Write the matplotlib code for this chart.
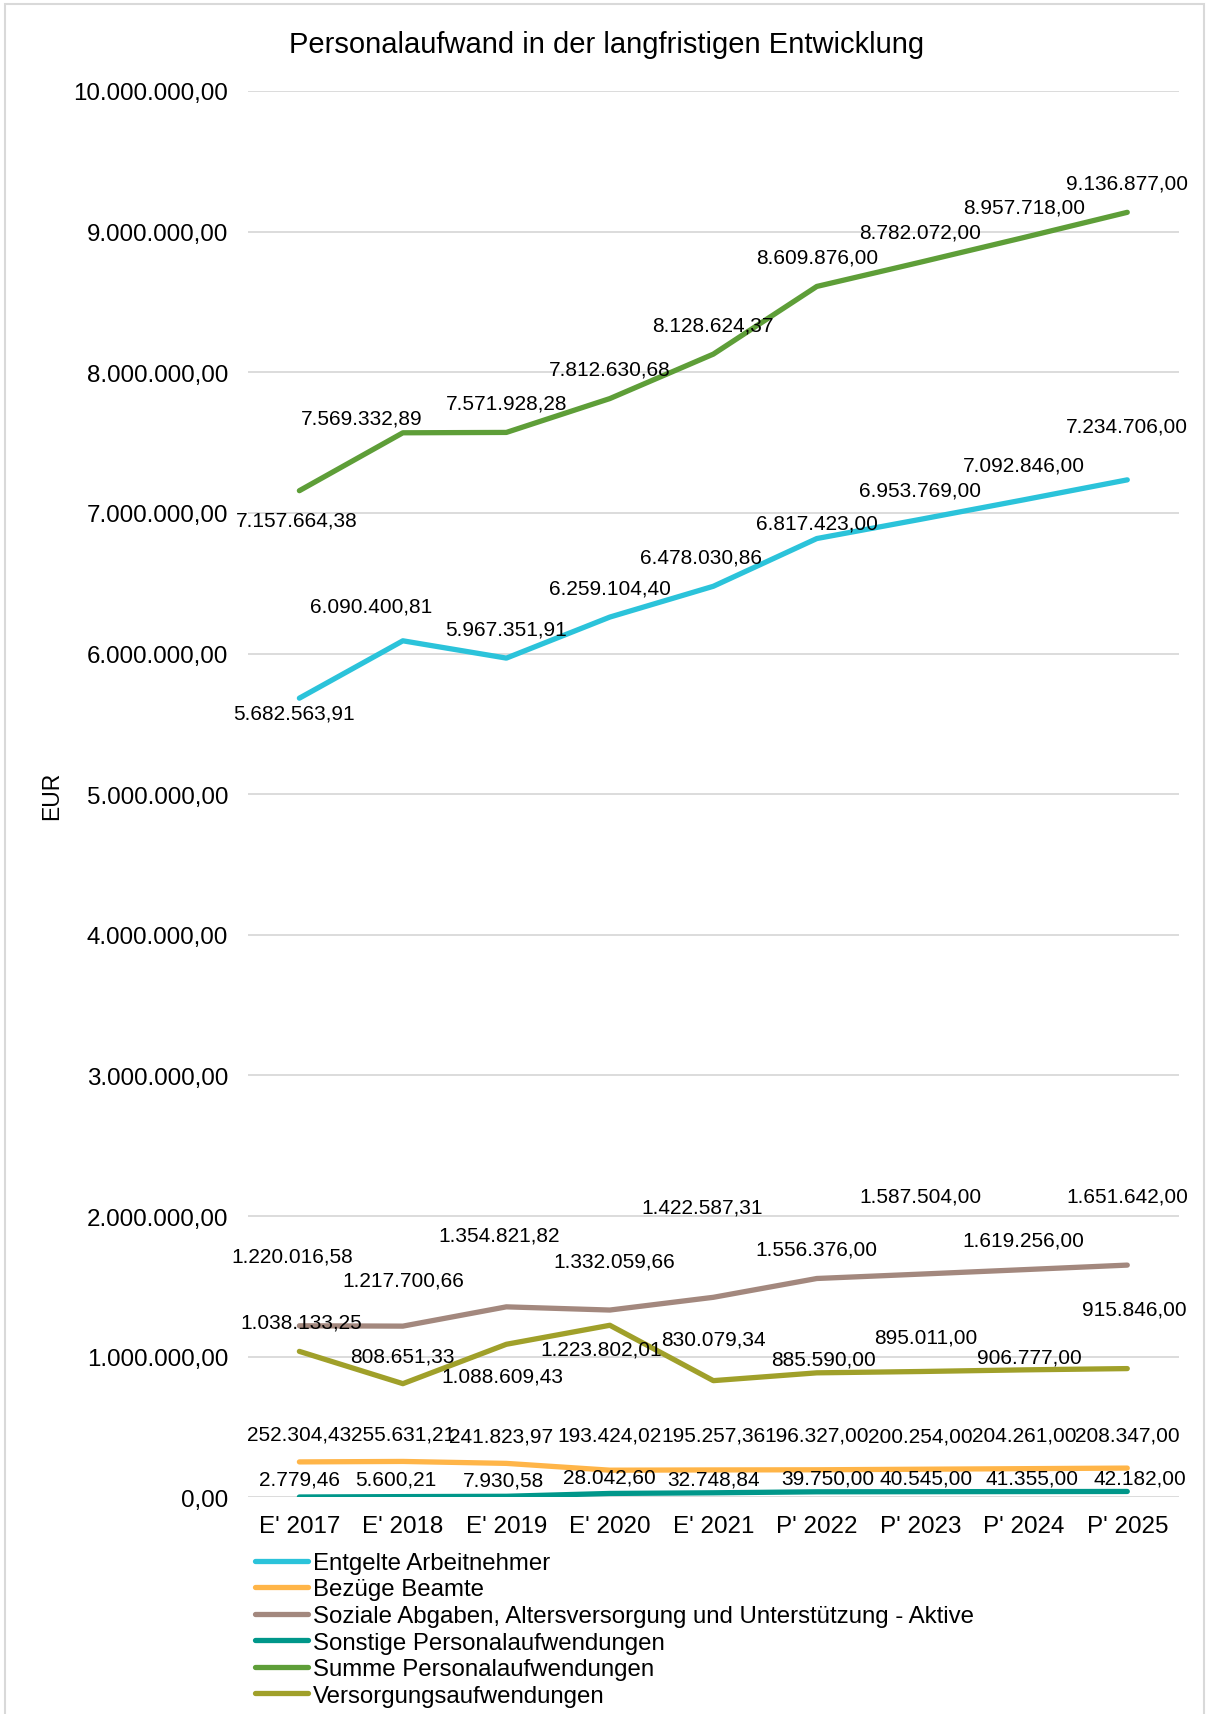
import matplotlib
matplotlib.use("Agg")
import matplotlib.pyplot as plt
from matplotlib.patches import Rectangle
from matplotlib.ticker import FuncFormatter

plt.rcParams['font.family'] = ['Liberation Sans', 'DejaVu Sans']

# Kategorien (E = Ergebnis, P = Plan)
jahre = ["E' 2017", "E' 2018", "E' 2019", "E' 2020", "E' 2021",
         "P' 2022", "P' 2023", "P' 2024", "P' 2025"]

entgelte = [5682563.91, 6090400.81, 5967351.91, 6259104.40, 6478030.86,
            6817423.00, 6953769.00, 7092846.00, 7234706.00]
bezuege = [252304.43, 255631.21, 241823.97, 193424.02, 195257.36,
           196327.00, 200254.00, 204261.00, 208347.00]
soziale = [1220016.58, 1217700.66, 1354821.82, 1332059.66, 1422587.31,
           1556376.00, 1587504.00, 1619256.00, 1651642.00]
sonstige = [2779.46, 5600.21, 7930.58, 28042.60, 32748.84,
            39750.00, 40545.00, 41355.00, 42182.00]
summe = [7157664.38, 7569332.89, 7571928.28, 7812630.68, 8128624.37,
         8609876.00, 8782072.00, 8957718.00, 9136877.00]
versorgung = [1038133.25, 808651.33, 1088609.43, 1223802.01, 830079.34,
              885590.00, 895011.00, 906777.00, 915846.00]

namen = ["Entgelte Arbeitnehmer", "Bezüge Beamte",
         "Soziale Abgaben, Altersversorgung und Unterstützung - Aktive",
         "Sonstige Personalaufwendungen", "Summe Personalaufwendungen",
         "Versorgungsaufwendungen"]
farben = ["#2BC3DA", "#FFB548", "#A3887E", "#00978A", "#5E9E38", "#A0A02A"]

# Verschiebung der Datenbeschriftungen in Punkten (dx, dy)
off_entgelte = [(-4, -11), (-23, 25), (0, 21), (0, 21), (-9, 21), (0, 11), (0, 21), (0, 25), (0, 39)]
off_bezuege = [(0, 20), (0, 20), (-4, 20), (0, 25), (0, 25), (0, 25), (0, 24), (0, 24), (0, 24)]
off_soziale = [(-5, 50), (0, 33), (-5, 52), (3, 35), (-8, 65), (0, 21), (0, 56), (0, 21), (0, 50)]
off_sonstige = [(0, 13), (-5, 13), (-2, 12), (0, 12), (0, 10), (8, 10), (4, 10), (6, 10), (9, 10)]
off_summe = [(-2, -21), (-30, 11), (0, 21), (0, 21), (0, 21), (0, 21), (0, 22), (0, 22), (0, 21)]
off_versorgung = [(1, 21), (0, 20), (-3, -23), (-6, -17), (0, 30), (5, 10), (4, 25), (4, 9), (5, 43)]

serien = [entgelte, bezuege, soziale, sonstige, summe, versorgung]
offsets = [off_entgelte, off_bezuege, off_soziale, off_sonstige, off_summe, off_versorgung]


def de_format(v, nachkomma=2):
    s = f"{v:,.{nachkomma}f}"
    return s.replace(",", "X").replace(".", ",").replace("X", ".")


fig = plt.figure(figsize=(12.08, 17.15), dpi=100)
ax = fig.add_axes([0.205, 0.1263, 0.771, 0.8201])

x = list(range(len(jahre)))
for werte, name, farbe, offs in zip(serien, namen, farben, offsets):
    ax.plot(x, werte, color=farbe, lw=3.8, label=name, solid_capstyle='round',
            solid_joinstyle='round', zorder=3)
    for xi, v, (dx, dy) in zip(x, werte, offs):
        ax.annotate(de_format(v), (xi, v), xytext=(dx, dy), textcoords='offset points',
                    ha='center', va='center', fontsize=15, color='#000000', zorder=4)

ax.set_xlim(-0.5, len(jahre) - 0.5)
ax.set_ylim(0, 10000000)
ax.set_yticks(range(0, 10000001, 1000000))
ax.yaxis.set_major_formatter(FuncFormatter(lambda v, p: de_format(v)))
ax.set_xticks(x)
ax.set_xticklabels(jahre)
ax.tick_params(axis='both', length=0, labelsize=17.4)
ax.tick_params(axis='y', pad=14)
ax.tick_params(axis='x', pad=13)
ax.grid(axis='y', color='#D9D9D9', lw=1.3)
ax.set_axisbelow(True)
for s in ax.spines.values():
    s.set_visible(False)

fig.text(0.043, 0.536, "EUR", rotation=90, ha='center', va='center', fontsize=16.5)
fig.text(0.502, 0.974, "Personalaufwand in der langfristigen Entwicklung",
         ha='center', va='center', fontsize=21)

fig.legend(loc='upper left', bbox_to_anchor=(0.211, 0.0945), frameon=False,
           fontsize=17.3, handlelength=2.2, handletextpad=0.22, labelspacing=0.19,
           borderpad=0, borderaxespad=0)

# heller Rahmen um das Diagramm
fig.patches.append(Rectangle((0.004, -0.01), 0.993, 1.007, transform=fig.transFigure,
                             fill=False, edgecolor='#D9D9D9', lw=1.5))

fig.savefig("out.png", dpi=100)
